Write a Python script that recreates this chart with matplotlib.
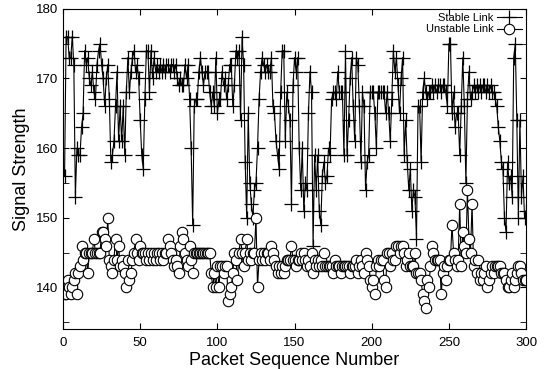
import numpy as np
from matplotlib import pyplot as plt

stable = [
    156, 176, 176, 173, 173, 176, 172, 153, 160, 159, 159, 163, 165, 174, 172, 173, 170, 169, 171, 168,
    167, 172, 174, 175, 172, 170, 166, 170, 172, 167, 158, 159, 161, 166, 171, 161, 166, 161, 166, 159,
    168, 173, 168, 171, 173, 174, 171, 172, 170, 164, 159, 157, 167, 174, 174, 168, 174, 170, 173, 171,
    172, 171, 172, 171, 172, 171, 172, 172, 171, 172, 172, 171, 172, 170, 169, 170, 169, 169, 172, 170,
    172, 167, 160, 149, 166, 167, 167, 171, 173, 171, 169, 171, 171, 171, 168, 166, 168, 166, 173, 165,
    167, 167, 171, 169, 170, 167, 169, 172, 172, 166, 169, 174, 173, 174, 164, 176, 172, 158, 150, 165,
    155, 152, 150, 154, 155, 160, 167, 171, 173, 172, 171, 172, 171, 171, 173, 166, 165, 161, 159, 157,
    168, 174, 174, 161, 168, 166, 164, 152, 169, 173, 171, 173, 160, 154, 160, 151, 155, 154, 165, 171,
    168, 146, 159, 154, 159, 151, 149, 156, 158, 155, 156, 160, 159, 167, 168, 168, 167, 171, 168, 168,
    168, 159, 174, 159, 164, 170, 173, 166, 161, 173, 172, 166, 158, 168, 166, 154, 158, 159, 168, 168,
    168, 165, 160, 168, 168, 168, 168, 168, 165, 168, 165, 161, 167, 174, 171, 173, 169, 165, 170, 173,
    159, 164, 158, 154, 157, 151, 154, 153, 147, 166, 166, 158, 168, 170, 168, 167, 168, 168, 169, 168,
    169, 168, 169, 169, 168, 169, 169, 168, 166, 175, 175, 165, 168, 163, 165, 165, 159, 166, 173, 166,
    155, 167, 171, 167, 168, 169, 168, 169, 168, 169, 168, 169, 169, 168, 169, 168, 169, 168, 168, 167,
    166, 163, 161, 158, 157, 150, 148, 158, 155, 156, 153, 173, 175, 164, 150, 164, 153, 156, 150, 151,
]

unstable = [
    139, 139, 141, 140, 139, 140, 141, 142, 139, 142, 143, 146, 144, 145, 145, 142, 145, 145, 145, 147,
    145, 145, 145, 145, 148, 148, 147, 146, 150, 144, 143, 142, 144, 147, 144, 146, 143, 144, 143, 142,
    140, 144, 141, 142, 144, 145, 147, 145, 144, 146, 145, 145, 145, 144, 145, 144, 145, 144, 145, 144,
    145, 145, 144, 145, 144, 145, 145, 147, 146, 145, 144, 143, 144, 143, 142, 146, 148, 147, 145, 144,
    143, 146, 144, 142, 145, 145, 145, 145, 145, 145, 145, 145, 145, 145, 145, 142, 140, 142, 140, 143,
    140, 143, 143, 142, 143, 143, 138, 139, 140, 142, 145, 144, 141, 145, 147, 145, 143, 145, 147, 144,
    145, 144, 145, 145, 150, 140, 144, 145, 144, 145, 144, 145, 145, 144, 146, 145, 144, 143, 142, 143,
    142, 143, 142, 143, 144, 144, 144, 146, 144, 144, 143, 144, 144, 145, 144, 145, 144, 143, 144, 143,
    145, 142, 144, 143, 144, 143, 144, 143, 145, 143, 143, 143, 143, 143, 142, 144, 143, 143, 143, 142,
    143, 143, 143, 143, 143, 142, 143, 143, 143, 144, 142, 143, 144, 143, 142, 145, 144, 143, 141, 140,
    141, 139, 143, 144, 143, 144, 144, 141, 140, 145, 145, 143, 145, 144, 144, 146, 146, 145, 146, 146,
    145, 143, 144, 145, 143, 143, 143, 145, 142, 142, 142, 141, 139, 138, 137, 141, 140, 143, 146, 145,
    144, 144, 144, 144, 139, 142, 143, 141, 143, 144, 144, 149, 145, 144, 143, 144, 152, 143, 148, 146,
    145, 154, 147, 145, 152, 143, 144, 142, 144, 141, 142, 141, 142, 143, 140, 141, 142, 143, 142, 143,
    143, 143, 143, 142, 142, 142, 141, 140, 140, 141, 142, 140, 141, 142, 143, 143, 142, 141, 141, 141,
]

x = np.arange(1, len(stable) + 1)
x2 = np.arange(1, len(unstable) + 1)

plt.rcParams['font.family'] = ['Liberation Sans', 'DejaVu Sans']

fig = plt.figure(figsize=(5.48, 3.69), dpi=100)
ax = fig.add_axes([0.115, 0.108, 0.845, 0.868])

ax.plot(x, stable, color='k', lw=0.8, marker='+', ms=9.5, mew=0.9, label='Stable Link')
ax.plot(x2, unstable, color='k', lw=0.8, marker='o', ms=7.5, mew=0.8,
        markerfacecolor='white', label='Unstable Link')

ax.set_xlim(0, 300)
ax.set_ylim(134, 180)
ax.set_xticks(range(0, 301, 50))
ax.set_yticks(range(140, 181, 10))
ax.set_yticks(range(135, 181, 5), minor=True)
ax.tick_params(direction='in', top=True, right=True, labelsize=9.5, length=4)
ax.tick_params(axis='x', pad=6)
ax.tick_params(which='minor', direction='in', right=True, length=4)

ax.set_xlabel('Packet Sequence Number', fontsize=13, labelpad=2)
ax.set_ylabel('Signal Strength', fontsize=13, labelpad=4)

ax.legend(loc='upper right', markerfirst=False, frameon=False, fontsize=8,
          handlelength=2.2, handletextpad=0.3, labelspacing=0.1,
          borderaxespad=0.2, borderpad=0.2)

fig.savefig('out.png', dpi=100)
